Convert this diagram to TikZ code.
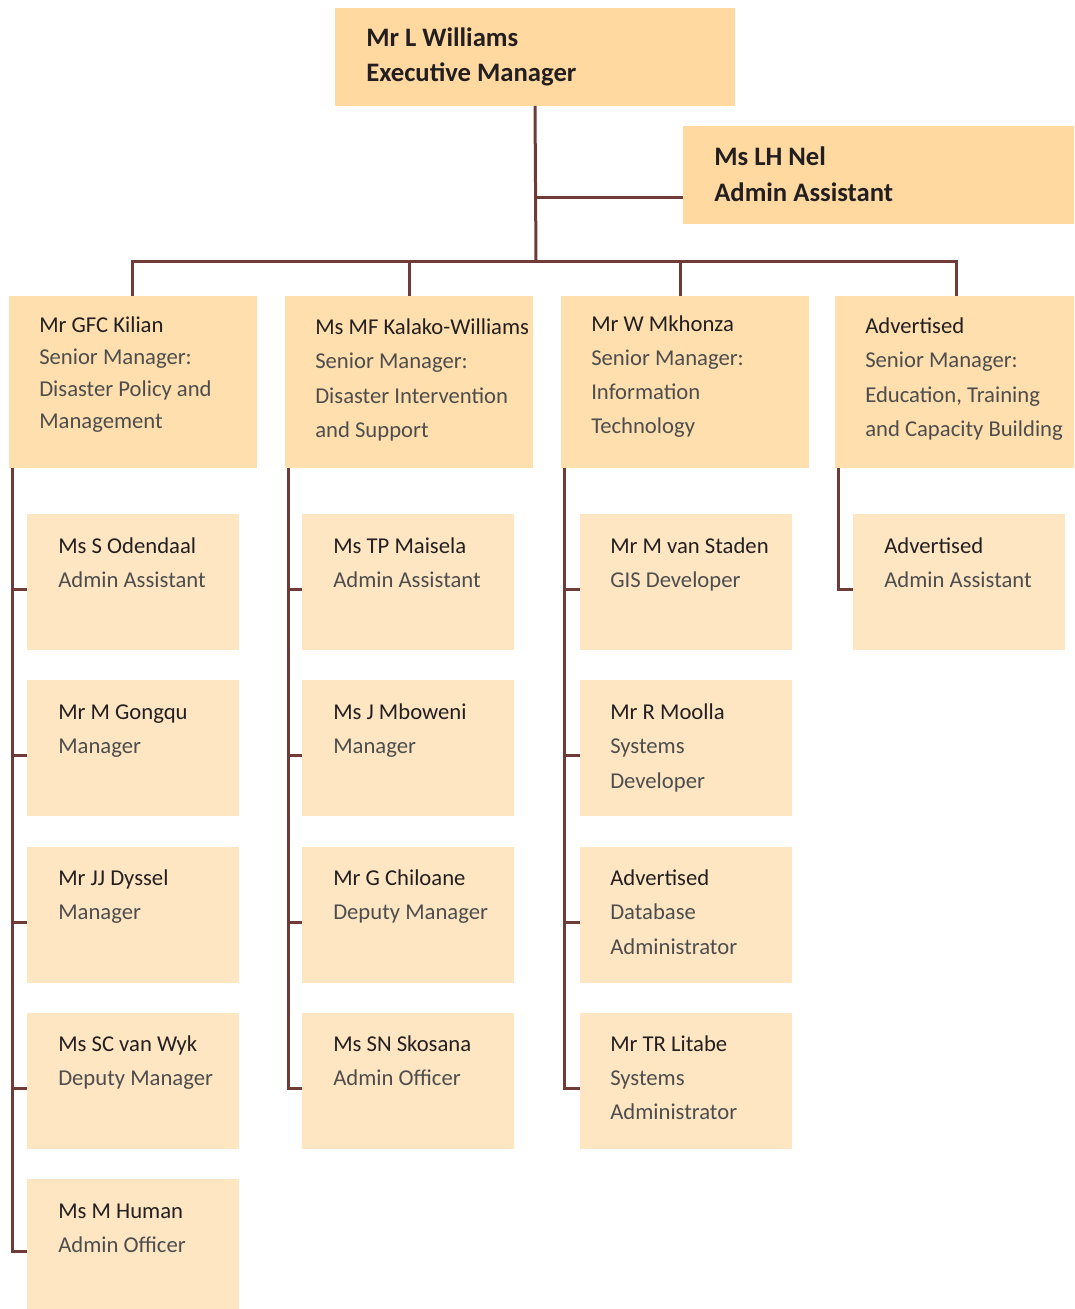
\documentclass[tikz,border=0pt]{standalone}
\usepackage{fontspec}
\setmainfont{Carlito}
\definecolor{topfill}{HTML}{FFD9A0}
\definecolor{midfill}{HTML}{FFDFAE}
\definecolor{lowfill}{HTML}{FFE6C3}
\definecolor{conncol}{HTML}{6E3B36}
\definecolor{namecol}{HTML}{231F20}
\definecolor{rolecol}{HTML}{4D4D4D}
\newcommand\mybox[6]{\node[#6, anchor=north west, minimum width={(#4-#2)*0.75pt}, minimum height={(#5-#3)*0.75pt}] (#1) at (#2,#3) {};}
\newcommand\myentry[6]{%
  \node[nametxt] (#1-1) at (#2,#3) {#5};
  \foreach \t [count=\i from 2] in {#6} {\node[roletxt] (#1-\i) at (#2,{#3+(\i-1)*#4}) {\t};}}
\begin{document}
\begin{tikzpicture}[x=0.75pt,y=-0.75pt,
  boxbase/.style={inner sep=0pt, outer sep=0pt, draw=none},
  topbox/.style={boxbase, fill=topfill},
  midbox/.style={boxbase, fill=midfill},
  lowbox/.style={boxbase, fill=lowfill},
  conn/.style={draw=conncol, line width=2.25pt, line join=miter},
  toptxt/.style={anchor=base west, inner sep=0pt, font=\fontsize{20}{24}\selectfont\bfseries, text=namecol},
  nametxt/.style={anchor=base west, inner sep=0pt, font=\fontsize{17}{21}\selectfont, text=namecol},
  roletxt/.style={anchor=base west, inner sep=0pt, font=\fontsize{17}{21}\selectfont, text=rolecol}]
\useasboundingbox (0,0) rectangle (1074,1309);
% boxes
\mybox{top}{335}{8}{735}{106}{topbox}
\mybox{nel}{683}{126}{1074}{224}{topbox}
\mybox{s1}{9}{296}{257}{468}{midbox}
\mybox{s2}{285}{296}{533}{468}{midbox}
\mybox{s3}{561}{296}{809}{468}{midbox}
\mybox{s4}{835}{296}{1074}{468}{midbox}
\foreach \c/\x in {a/27,b/302,c/580}{
  \mybox{\c1}{\x}{514}{\x+212}{650}{lowbox}
  \mybox{\c2}{\x}{680}{\x+212}{816}{lowbox}
  \mybox{\c3}{\x}{847}{\x+212}{983}{lowbox}
  \mybox{\c4}{\x}{1013}{\x+212}{1149}{lowbox}
}
\mybox{d1}{853}{514}{1065}{650}{lowbox}
\mybox{a5}{27}{1179}{239}{1309}{lowbox}
% texts
\node[toptxt] (topname) at (366,47) {Mr L Williams};
\node[toptxt] (toprole) at (366,82) {Executive Manager};
\node[toptxt] (nelname) at (714,166) {Ms LH Nel};
\node[toptxt] (nelrole) at (714,201) {Admin Assistant};
\myentry{t1}{39}{332}{32}{Mr GFC Kilian}{Senior Manager:,Disaster Policy and,Management}
\myentry{t2}{315}{334}{34.5}{Ms MF Kalako-Williams}{Senior Manager:,Disaster Intervention,and Support}
\myentry{t3}{591}{331}{34}{Mr W Mkhonza}{Senior Manager:,Information,Technology}
\myentry{t4}{865}{333}{34.5}{Advertised}{Senior Manager:,{Education, Training},and Capacity Building}
\myentry{ta1}{58}{553}{34.5}{Ms S Odendaal}{Admin Assistant}
\myentry{ta2}{58}{719}{34.5}{Mr M Gongqu}{Manager}
\myentry{ta3}{58}{885}{34.5}{Mr JJ Dyssel}{Manager}
\myentry{ta4}{58}{1051}{34.5}{Ms SC van Wyk}{Deputy Manager}
\myentry{ta5}{58}{1218}{34.5}{Ms M Human}{Admin Officer}
\myentry{tb1}{333}{553}{34.5}{Ms TP Maisela}{Admin Assistant}
\myentry{tb2}{333}{719}{34.5}{Ms J Mboweni}{Manager}
\myentry{tb3}{333}{885}{34.5}{Mr G Chiloane}{Deputy Manager}
\myentry{tb4}{333}{1051}{34.5}{Ms SN Skosana}{Admin Officer}
\myentry{tc1}{610}{553}{34.5}{Mr M van Staden}{GIS Developer}
\myentry{tc2}{610}{719}{34.5}{Mr R Moolla}{Systems,Developer}
\myentry{tc3}{610}{885}{34.5}{Advertised}{Database,Administrator}
\myentry{tc4}{610}{1051}{34}{Mr TR Litabe}{Systems,Administrator}
\myentry{td1}{884}{553}{34.5}{Advertised}{Admin Assistant}
% connectors
\coordinate (bus) at (536,261);
\coordinate (nelj) at (536,197);
\coordinate (d1top) at ([xshift=-0.75pt]s1.north);
\coordinate (d3top) at ([xshift=-3.75pt]s3.north);
\coordinate (d4top) at ([xshift=1.5pt]s4.north);
\draw[conn] (top.south) -- (bus);
\draw[conn] (nelj) -- (nel.west |- nelj);
\draw[conn] (d1top) |- (bus) -| (d4top);
\draw[conn] (s2.north) -- (s2.north |- bus);
\draw[conn] (d3top) -- (d3top |- bus);
\foreach \c/\p/\n in {a/s1/5,b/s2/4,c/s3/4,d/s4/1}{
  \coordinate (sp\c) at ([xshift=2.25pt]\p.south west);
  \foreach \k in {1,...,\n}{
    \coordinate (j\c\k) at ([yshift=-5.25pt]\c\k.west);
    \draw[conn] (sp\c |- j\c\k) -- (j\c\k);
  }
  \draw[conn] (sp\c) |- (j\c\n);
}
\end{tikzpicture}
\end{document}
